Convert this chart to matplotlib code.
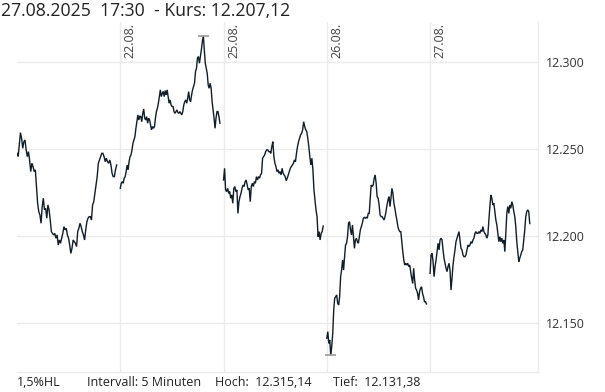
import numpy as np
import matplotlib
matplotlib.use("Agg")
import matplotlib.pyplot as plt
import matplotlib.transforms as mtransforms

plt.rcParams['font.family'] = ['Open Sans', 'DejaVu Sans']

# 5-minute closes per trading day (index points)
day_labels = ["21.08.", "22.08.", "25.08.", "26.08.", "27.08."]

day1 = [12247.5, 12245.6, 12252.3, 12259.4, 12256.2, 12250.4, 12254.2, 12255.2, 12249.5, 12245.6,
        12248.5, 12243.7, 12237.0, 12241.8, 12239.9, 12237.0, 12238.0, 12228.4, 12218.8, 12214.0,
        12212.1, 12207.3, 12216.9, 12221.7, 12215.0, 12215.9, 12210.2, 12217.8, 12215.0, 12209.2,
        12202.5, 12201.5, 12200.6, 12201.5, 12198.7, 12200.6, 12194.8, 12197.7, 12195.8, 12198.7,
        12201.5, 12205.4, 12203.5, 12204.4, 12200.6, 12198.7, 12194.8, 12190.0, 12192.9, 12197.7,
        12196.7, 12195.8, 12193.9, 12202.5, 12204.4, 12207.3, 12205.4, 12202.5, 12200.6, 12197.7,
        12203.5, 12208.2, 12210.2, 12211.1, 12211.1, 12209.2, 12217.8, 12219.7, 12224.5, 12229.3,
        12234.1, 12241.8, 12243.7, 12245.6, 12247.5, 12247.5, 12245.6, 12242.7, 12244.7, 12242.7,
        12241.8, 12243.7, 12240.8, 12236.0, 12234.1, 12234.1, 12238.0, 12240.8]

day2 = [12227.4, 12230.3, 12231.2, 12230.3, 12233.2, 12234.1, 12237.0, 12240.8, 12238.0, 12242.7,
        12245.6, 12246.6, 12249.5, 12253.3, 12255.2, 12257.1, 12261.9, 12265.7, 12269.6, 12266.7,
        12269.0, 12268.6, 12265.7, 12270.5, 12273.0, 12267.7, 12266.7, 12268.6, 12264.8, 12267.7,
        12266.7, 12263.8, 12261.0, 12262.9, 12261.9, 12262.9, 12267.7, 12271.5, 12273.4, 12276.3,
        12280.1, 12284.0, 12280.1, 12282.0, 12283.0, 12280.1, 12283.6, 12281.1, 12284.0, 12280.1,
        12276.3, 12278.2, 12275.3, 12274.4, 12274.4, 12271.5, 12270.5, 12271.5, 12272.5, 12270.9,
        12270.5, 12271.5, 12270.5, 12269.6, 12271.5, 12275.3, 12277.2, 12278.2, 12276.3, 12279.2,
        12283.0, 12278.2, 12277.2, 12281.1, 12284.0, 12285.9, 12287.8, 12294.5, 12296.4, 12302.2,
        12303.1, 12299.3, 12303.1, 12307.0, 12311.7, 12315.14, 12307.0, 12299.3, 12296.4, 12293.5,
        12286.8, 12284.9, 12287.8, 12284.9, 12277.2, 12272.5, 12267.7, 12261.9, 12267.7, 12271.5,
        12271.5, 12268.6, 12264.8]

day3 = [12232.2, 12238.9, 12226.5, 12225.5, 12227.4, 12224.5, 12225.5, 12221.7, 12223.6, 12218.8,
        12227.4, 12228.4, 12225.5, 12226.5, 12213.0, 12219.7, 12222.6, 12224.5, 12227.4, 12229.3,
        12228.4, 12231.2, 12232.2, 12229.3, 12226.5, 12227.4, 12219.7, 12228.4, 12230.3, 12228.4,
        12231.2, 12230.3, 12234.1, 12232.2, 12234.1, 12233.2, 12235.1, 12236.0, 12244.7, 12245.6,
        12246.6, 12248.5, 12249.5, 12249.5, 12248.5, 12248.5, 12247.5, 12251.4, 12254.2, 12245.6,
        12241.8, 12239.9, 12237.0, 12238.0, 12236.0, 12237.0, 12235.1, 12238.9, 12236.0, 12235.1,
        12234.1, 12231.8, 12233.2, 12235.1, 12237.0, 12238.9, 12239.9, 12240.8, 12241.8, 12243.7,
        12242.7, 12247.5, 12251.4, 12254.2, 12256.2, 12258.1, 12259.0, 12261.0, 12265.7, 12262.9,
        12261.0, 12260.0, 12256.2, 12251.4, 12245.6, 12240.8, 12244.7, 12238.0, 12226.5, 12220.7,
        12215.0, 12211.1, 12199.6, 12202.5, 12197.7, 12201.5, 12202.5, 12205.7]

day4 = [12141.2, 12145.0, 12138.3, 12140.2, 12131.38, 12136.4, 12144.0, 12157.4, 12164.2, 12165.1,
        12166.1, 12161.3, 12160.3, 12165.1, 12176.6, 12180.4, 12186.2, 12180.4, 12188.1, 12194.8,
        12195.8, 12199.6, 12207.3, 12208.2, 12203.5, 12200.6, 12206.3, 12199.6, 12192.9, 12197.7,
        12198.7, 12196.7, 12195.8, 12199.6, 12203.5, 12205.4, 12207.3, 12210.2, 12210.7, 12210.2,
        12210.7, 12210.2, 12213.0, 12213.0, 12221.7, 12229.3, 12228.4, 12229.3, 12233.2, 12235.1,
        12230.3, 12222.6, 12221.7, 12217.8, 12212.1, 12211.1, 12211.1, 12210.2, 12209.2, 12211.1,
        12214.0, 12217.8, 12220.7, 12222.6, 12216.9, 12221.7, 12227.4, 12224.5, 12218.8, 12215.9,
        12212.1, 12209.2, 12205.4, 12203.5, 12202.5, 12202.5, 12196.7, 12191.0, 12186.2, 12183.3,
        12184.3, 12183.3, 12184.3, 12182.4, 12183.3, 12179.5, 12175.7, 12172.8, 12181.4, 12174.7,
        12169.9, 12168.9, 12167.0, 12163.2, 12168.0, 12169.9, 12170.8, 12167.0, 12165.1, 12162.2,
        12162.2, 12160.9]

day5 = [12178.5, 12189.1, 12190.0, 12185.2, 12176.6, 12182.4, 12186.2, 12191.0, 12195.8, 12192.0,
        12197.7, 12198.7, 12197.7, 12192.0, 12187.2, 12184.3, 12181.4, 12179.5, 12182.4, 12184.3,
        12180.4, 12168.9, 12175.7, 12183.3, 12188.1, 12192.0, 12196.7, 12198.7, 12200.6, 12202.5,
        12197.7, 12192.9, 12192.0, 12189.1, 12188.1, 12188.1, 12189.1, 12192.0, 12194.8, 12193.9,
        12194.8, 12196.7, 12195.8, 12197.7, 12198.7, 12201.5, 12202.5, 12201.5, 12201.5, 12202.5,
        12201.5, 12203.5, 12202.5, 12205.4, 12202.5, 12201.5, 12200.6, 12198.7, 12200.6, 12209.2,
        12216.9, 12223.6, 12221.7, 12217.8, 12218.8, 12214.0, 12209.2, 12206.3, 12201.5, 12196.7,
        12199.6, 12196.7, 12198.7, 12195.8, 12197.7, 12191.0, 12201.5, 12213.0, 12216.9, 12213.0,
        12217.8, 12215.9, 12219.7, 12217.8, 12214.0, 12211.1, 12205.4, 12196.7, 12191.0, 12185.2,
        12187.2, 12189.1, 12191.0, 12192.0, 12197.7, 12203.5, 12211.1, 12214.0, 12215.0, 12214.0,
        12207.12]

days = [day1, day2, day3, day4, day5]
y_ticks = [12150, 12200, 12250, 12300]
y_tick_labels = ["12.150", "12.200", "12.250", "12.300"]

title_text = "27.08.2025  17:30  - Kurs: 12.207,12"
footer = [("1,5%HL", 17), ("Intervall: 5 Minuten", 87), ("Hoch:  12.315,14", 215), ("Tief:  12.131,38", 333)]

W, H = 605, 392
fig = plt.figure(figsize=(W / 100, H / 100), dpi=100)
left, right, top, bottom = 17, 538, 22, 372
ax = fig.add_axes([left / W, 1 - bottom / H, (right - left) / W, (bottom - top) / H])

line_color = '#0f1e2b'
grid_color = '#ebebeb'

# each trading day occupies one unit on x, separated by gaps
for i, vals in enumerate(days):
    x = np.linspace(i, i + 0.965, len(vals))
    ax.plot(x, vals, color=line_color, lw=1.0, solid_joinstyle='miter')

# high / low markers
hi_day, lo_day = 1, 3
hx = hi_day + 0.965 * np.argmax(day2) / (len(day2) - 1)
lx = lo_day + 0.965 * np.argmin(day4) / (len(day4) - 1)
ax.hlines(max(day2), hx - 0.055, hx + 0.055, color='#9a9a9a', lw=1.2, zorder=3)
ax.hlines(min(day4), lx - 0.055, lx + 0.055, color='#9a9a9a', lw=1.2, zorder=3)

ax.set_xlim(0, 5.045)
ax.set_ylim(12121.8, 12323.0)

for yt in y_ticks:
    ax.axhline(yt, color=grid_color, lw=1.0, zorder=0)
for d in range(1, 5):
    ax.axvline(d, color=grid_color, lw=1.0, zorder=0)

# day labels, rotated, right of day boundaries
trans = mtransforms.blended_transform_factory(ax.transData, ax.transAxes)
for d in range(1, 5):
    ax.text(d + 0.035, 0.997, day_labels[d], transform=trans, rotation=90,
            ha='left', va='top', fontsize=9, color='#444444')

for s in ['left', 'top']:
    ax.spines[s].set_visible(False)
for s in ['right', 'bottom']:
    ax.spines[s].set_color(grid_color)
    ax.spines[s].set_linewidth(1.0)

ax.set_xticks([])
ax.yaxis.tick_right()
ax.set_yticks(y_ticks)
ax.set_yticklabels(y_tick_labels)
ax.tick_params(axis='y', length=0, pad=6, labelsize=9, labelcolor='#333333')

fig.text(1 / W, 1 - 11 / H, title_text, fontsize=12.7, color='#222222', ha='left', va='center')
for txt, px in footer:
    fig.text(px / W, 1 - 383 / H, txt, fontsize=9, color='#222222', ha='left', va='center')

fig.savefig('out.png', dpi=100)
